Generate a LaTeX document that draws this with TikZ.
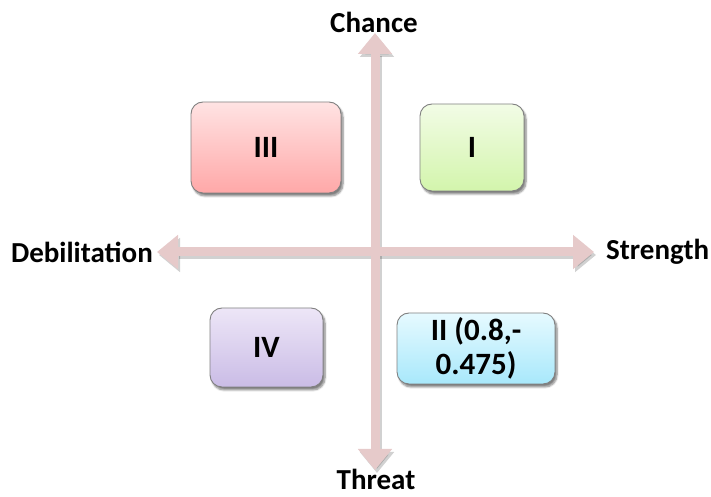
\documentclass[tikz,border=0pt]{standalone}
\usepackage{fontspec}
\setmainfont{Carlito}
\usetikzlibrary{arrows.meta,shadows.blur}
\definecolor{axiscol}{HTML}{E6CACA}
\definecolor{bordercol}{HTML}{808080}
\tikzset{
  quad/.style={draw=bordercol, line width=0.9pt, rounded corners=12pt, align=center,
    font=\fontsize{31}{34}\selectfont\bfseries, inner sep=0pt,
    blur shadow={shadow xshift=2pt, shadow yshift=-3pt, shadow blur steps=6, shadow opacity=50}},
  axlabel/.style={font=\fontsize{29}{34}\selectfont\bfseries, inner sep=0pt},
  axis/.style={draw=axiscol, line width=9pt,
    {Triangle[width=33pt,length=21pt]}-{Triangle[width=33pt,length=21pt]}},
  axshadow/.style={draw=black, opacity=0.18, line width=9pt,
    {Triangle[width=33pt,length=21pt]}-{Triangle[width=33pt,length=21pt]}}
}
\begin{document}
\begin{tikzpicture}[x=1pt,y=1pt]
\useasboundingbox (0,0) rectangle (711,497);
\coordinate (ctop) at (375,464);
\coordinate (cbot) at (375,27);
\coordinate (cleft) at (157,245);
\coordinate (cright) at (594,245);
% shadows of axes
\path[axshadow] ([shift={(2,-3)}]cleft) -- ([shift={(2,-3)}]cright);
\path[axshadow] ([shift={(2,-3)}]ctop) -- ([shift={(2,-3)}]cbot);
% axes
\path[axis] (cleft) -- (cright);
\path[axis] (ctop) -- (cbot);
% labels
\node[axlabel] (chance) at (374,475) {Chance};
\node[axlabel] (threat) at (376,18) {Threat};
\node[axlabel, anchor=east] (debil) at (153,245) {Debilitation};
\node[axlabel, anchor=west] (strength) at (606,245) {Strength};
% boxes
\node[quad, minimum width=150pt, minimum height=91pt,
  top color={rgb,255:red,255;green,227;blue,227}, bottom color={rgb,255:red,255;green,168;blue,168}]
  (q3) at (266,349.5) {III};
\node[quad, minimum width=104pt, minimum height=87pt,
  top color={rgb,255:red,242;green,252;blue,230}, bottom color={rgb,255:red,211;green,245;blue,172}]
  (q1) at (472,349.5) {I};
\node[quad, minimum width=113pt, minimum height=79pt,
  top color={rgb,255:red,237;green,230;blue,247}, bottom color={rgb,255:red,202;green,188;blue,230}]
  (q4) at (266.5,149.5) {IV};
\node[quad, minimum width=158pt, minimum height=71pt,
  top color={rgb,255:red,230;green,250;blue,255}, bottom color={rgb,255:red,168;green,232;blue,251}]
  (q2) at (476,148.5) {II (0.8,-\\0.475)};
\end{tikzpicture}
\end{document}
